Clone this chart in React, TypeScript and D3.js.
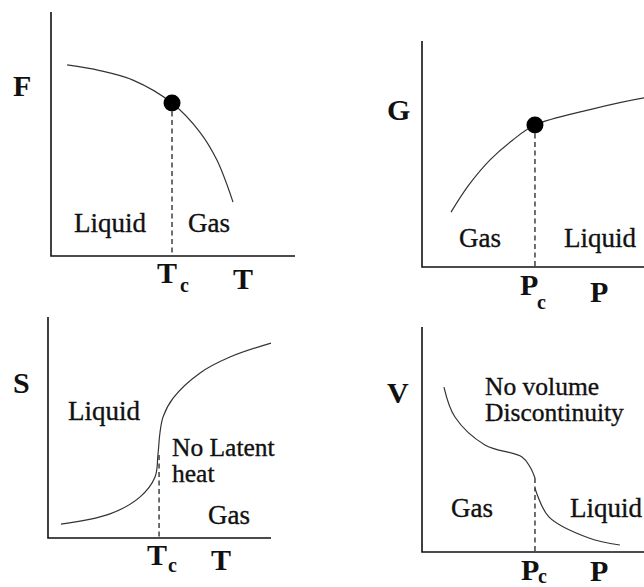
import React from "react";
import * as d3 from "d3";

// Free energy F against temperature (liquid side, then gas side)
const fTemps = [6.6, 20, 33.6, 49.6, 61, 68, 74.6];
const fValues = [78.3, 76, 72.1, 62.7, 50.8, 39.3, 22.1];
const fCritical = [49.6, 62.7];

// Gibbs energy G against pressure
const gPressures = [11.9, 19, 28, 37, 46.3, 68.4, 91, 97.5];
const gValues = [24.3, 36, 47.5, 56, 62.8, 69.5, 74.8, 75.7];
const gCritical = [46.3, 62.8];

// Entropy S against temperature
const sTemps = [5.8, 27.8, 41.3, 48, 49.3, 50.2, 51.6, 56.1, 68.2, 81.6, 100];
const sValues = [6.3, 10.9, 18.6, 27.6, 37.6, 47.5, 54.8, 63.3, 74.7, 81.9, 88.2];
const sCritical = [49.8, 37.6];

// Volume V against pressure: gas branch and liquid branch
const vGasP = [9, 13.5, 25.8, 41, 44.3, 46.3];
const vGasV = [73.3, 60, 47.6, 42.2, 37.8, 32.9];
const vLiqP = [46.3, 52, 68.4, 81.1];
const vLiqV = [28.4, 15.6, 6.2, 3.1];
const vCritical = [46.3, 32.9];

// Two-line annotations
const latentNote = ["No Latent", "heat"];
const volumeNote = ["No volume", "Discontinuity"];

const SERIF = "'Liberation Serif', 'Times New Roman', serif";

type Box = { x0: number; x1: number; y0: number; y1: number };

function makeScales(b: Box) {
  const x = d3.scaleLinear().domain([0, 100]).range([b.x0, b.x1]);
  const y = d3.scaleLinear().domain([0, 100]).range([b.y0, b.y1]);
  return { x, y };
}

function curvePath(xs: number[], ys: number[], sx: d3.ScaleLinear<number, number>, sy: d3.ScaleLinear<number, number>) {
  const line = d3
    .line<number>()
    .x((_, i) => sx(xs[i]))
    .y((_, i) => sy(ys[i]))
    .curve(d3.curveCatmullRom.alpha(0.5));
  return line(xs.map((_, i) => i)) || "";
}

function Axes({ b }: { b: Box }) {
  return (
    <path
      d={`M${b.x0},${b.y1}V${b.y0}H${b.x1}`}
      fill="none"
      stroke="#111"
      strokeWidth={1.6}
    />
  );
}

function Dashed({ x, yTop, yBottom }: { x: number; yTop: number; yBottom: number }) {
  return (
    <line
      x1={x}
      x2={x}
      y1={yTop}
      y2={yBottom}
      stroke="#222"
      strokeWidth={1.3}
      strokeDasharray="5,3.5"
    />
  );
}

const curveStyle = { fill: "none", stroke: "#333", strokeWidth: 1.2 };

function Label({ x, y, children, size = 27, bold = false }: any) {
  return (
    <text
      x={x}
      y={y}
      fontFamily={SERIF}
      fontSize={size}
      fontWeight={bold ? "bold" : "normal"}
      fill="#111"
      stroke={bold ? "none" : "#111"}
      strokeWidth={bold ? 0 : 0.35}
    >
      {children}
    </text>
  );
}

function MultiLabel({ x, y, lines, gap, size = 25.5 }: { x: number; y: number; lines: string[]; gap: number; size?: number }) {
  return (
    <text
      x={x}
      y={y}
      fontFamily={SERIF}
      fontSize={size}
      fill="#111"
      stroke="#111"
      strokeWidth={0.35}
    >
      {lines.map((l, i) => (
        <tspan key={l} x={x} dy={i === 0 ? 0 : gap}>
          {l}
        </tspan>
      ))}
    </text>
  );
}

export default function App() {
  const boxF: Box = { x0: 51, x1: 295, y0: 256, y1: 12 };
  const boxG: Box = { x0: 422, x1: 666, y0: 267, y1: 41 };
  const boxS: Box = { x0: 48, x1: 271, y0: 538, y1: 317 };
  const boxV: Box = { x0: 422, x1: 666, y0: 552, y1: 327 };

  const f = makeScales(boxF);
  const g = makeScales(boxG);
  const s = makeScales(boxS);
  const v = makeScales(boxV);

  return (
    <svg
      width={644}
      height={587}
      style={{ position: "absolute", left: 0, top: 0, background: "#fff" }}
    >
      {/* F(T) */}
      <Axes b={boxF} />
      <Dashed x={f.x(fCritical[0])} yTop={f.y(fCritical[1])} yBottom={boxF.y0} />
      <path d={curvePath(fTemps, fValues, f.x, f.y)} {...curveStyle} />
      <circle cx={f.x(fCritical[0])} cy={f.y(fCritical[1])} r={8.5} fill="#000" />
      <Label x={13} y={96} size={30} bold>F</Label>
      <Label x={74} y={232}>Liquid</Label>
      <Label x={188} y={232}>Gas</Label>
      <Label x={157} y={283} size={30} bold>T</Label>
      <Label x={180} y={292} size={20} bold>c</Label>
      <Label x={233} y={289} size={30} bold>T</Label>

      {/* G(P) */}
      <Axes b={boxG} />
      <Dashed x={g.x(gCritical[0])} yTop={g.y(gCritical[1])} yBottom={boxG.y0} />
      <path d={curvePath(gPressures, gValues, g.x, g.y)} {...curveStyle} />
      <circle cx={g.x(gCritical[0])} cy={g.y(gCritical[1])} r={8.5} fill="#000" />
      <Label x={387} y={120} size={30} bold>G</Label>
      <Label x={459} y={247}>Gas</Label>
      <Label x={564} y={247}>Liquid</Label>
      <Label x={520} y={295} size={30} bold>P</Label>
      <Label x={537} y={309} size={20} bold>c</Label>
      <Label x={590} y={302} size={30} bold>P</Label>

      {/* S(T) */}
      <Axes b={boxS} />
      <Dashed x={s.x(sCritical[0])} yTop={s.y(sCritical[1])} yBottom={boxS.y0} />
      <path d={curvePath(sTemps, sValues, s.x, s.y)} {...curveStyle} />
      <Label x={13} y={393} size={30} bold>S</Label>
      <Label x={68} y={420}>Liquid</Label>
      <MultiLabel x={172} y={456} lines={latentNote} gap={26} />
      <Label x={208} y={524}>Gas</Label>
      <Label x={147} y={565} size={30} bold>T</Label>
      <Label x={168} y={572} size={20} bold>c</Label>
      <Label x={211} y={570} size={30} bold>T</Label>

      {/* V(P) */}
      <Axes b={boxV} />
      <Dashed x={v.x(vCritical[0])} yTop={v.y(vCritical[1])} yBottom={boxV.y0} />
      <path d={curvePath(vGasP, vGasV, v.x, v.y)} {...curveStyle} />
      <path d={curvePath(vLiqP, vLiqV, v.x, v.y)} {...curveStyle} />
      <Label x={387} y={403} size={30} bold>V</Label>
      <MultiLabel x={485} y={395} lines={volumeNote} gap={26} />
      <Label x={451} y={517}>Gas</Label>
      <Label x={570} y={517}>Liquid</Label>
      <Label x={521} y={580} size={30} bold>P</Label>
      <Label x={538} y={583} size={20} bold>c</Label>
      <Label x={590} y={581} size={30} bold>P</Label>
    </svg>
  );
}
